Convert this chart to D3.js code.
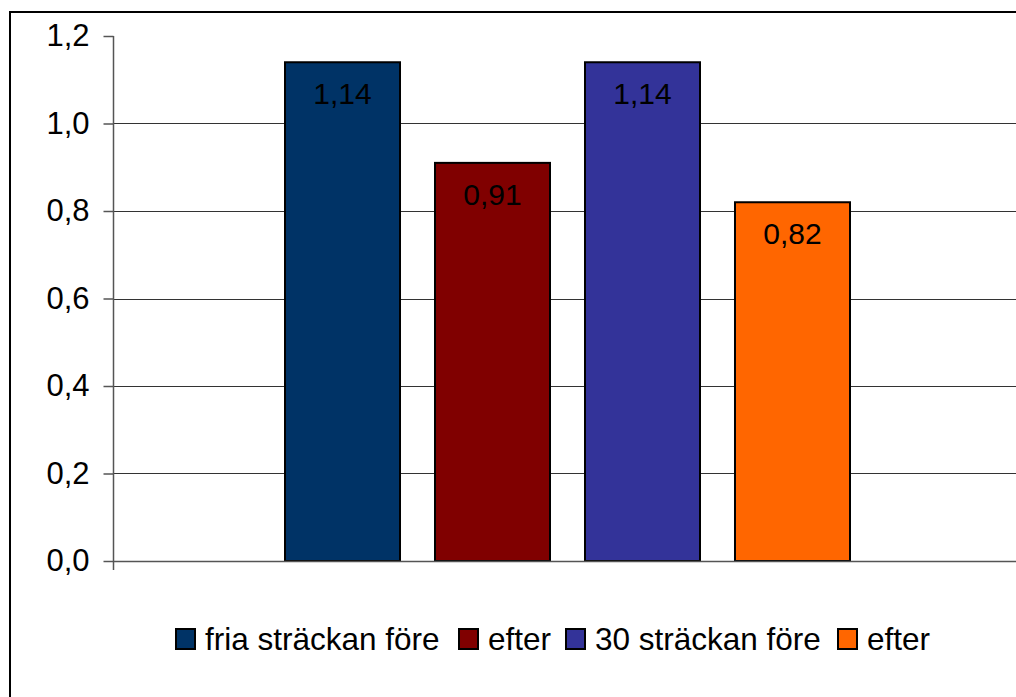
<!DOCTYPE html>
<html>
<head>
<meta charset="utf-8">
<script src="https://cdn.jsdelivr.net/npm/d3@7"></script>
<style>
  html, body { margin: 0; padding: 0; background: #fff; }
  svg { display: block; font-family: "Liberation Sans", Arial, sans-serif; }
</style>
</head>
<body>
<svg id="chart" width="1016" height="697"></svg>
<script>
// Series (one category, four bars)
const seriesNames = ["fria sträckan före", "efter", "30 sträckan före", "efter"];
const seriesValues = [1.14, 0.91, 1.14, 0.82];
const seriesLabels = ["1,14", "0,91", "1,14", "0,82"];
const seriesColors = ["#003366", "#800000", "#333399", "#FF6600"];
const yTicks = [0, 0.2, 0.4, 0.6, 0.8, 1.0, 1.2];

const svg = d3.select("#chart");

// Outer chart frame (right and bottom edges fall outside the view)
svg.append("rect")
  .attr("x", 10).attr("y", 12)
  .attr("width", 1040).attr("height", 720)
  .attr("fill", "#fff").attr("stroke", "#000").attr("stroke-width", 2);

const plot = { left: 113, right: 1022, top: 36, bottom: 561 };

const y = d3.scaleLinear().domain([0, 1.2]).range([plot.bottom, plot.top]);
const x = d3.scaleBand()
  .domain(d3.range(seriesValues.length))
  .range([plot.left, plot.right])
  .paddingInner(0.2333)
  .paddingOuter(1.1467);

// Gridlines (no line at the top value)
svg.append("g")
  .selectAll("line")
  .data(yTicks.filter(t => t > 0 && t < 1.2))
  .join("line")
  .attr("x1", plot.left).attr("x2", plot.right)
  .attr("y1", d => Math.round(y(d)) + 0.5).attr("y2", d => Math.round(y(d)) + 0.5)
  .attr("stroke", "#333").attr("stroke-width", 1.2);

// Bars
svg.append("g")
  .selectAll("rect")
  .data(seriesValues)
  .join("rect")
  .attr("x", (d, i) => x(i))
  .attr("y", d => y(d))
  .attr("width", x.bandwidth())
  .attr("height", d => plot.bottom - y(d))
  .attr("fill", (d, i) => seriesColors[i])
  .attr("stroke", "#000").attr("stroke-width", 2);

// Value labels inside the top of each bar
svg.append("g")
  .selectAll("text")
  .data(seriesValues)
  .join("text")
  .attr("x", (d, i) => x(i) + x.bandwidth() / 2)
  .attr("y", d => y(d) + 42)
  .attr("text-anchor", "middle")
  .attr("font-size", 30)
  .attr("fill", "#000")
  .text((d, i) => seriesLabels[i]);

// Y axis
const yAxis = d3.axisLeft(y)
  .tickValues(yTicks)
  .tickSize(10)
  .tickPadding(14)
  .tickFormat(d => d3.format(".1f")(d).replace(".", ","));
const ga = svg.append("g")
  .attr("transform", `translate(${plot.left + 0.5},0)`)
  .call(yAxis);
ga.select(".domain").remove();
ga.selectAll(".tick line").attr("stroke", "#555").attr("stroke-width", 1.5);
ga.selectAll(".tick text").attr("font-size", 31).attr("fill", "#000")
  .attr("font-family", "Liberation Sans, Arial, sans-serif");
svg.append("line")
  .attr("x1", plot.left + 0.5).attr("x2", plot.left + 0.5)
  .attr("y1", plot.top).attr("y2", plot.bottom + 9)
  .attr("stroke", "#555").attr("stroke-width", 1.5);

// X axis baseline
svg.append("line")
  .attr("x1", plot.left).attr("x2", plot.right)
  .attr("y1", plot.bottom + 0.5).attr("y2", plot.bottom + 0.5)
  .attr("stroke", "#555").attr("stroke-width", 1.5);

// Legend
const legend = svg.append("g").attr("font-size", 31.5);
const legendX = [175, 458, 565, 837];
seriesNames.forEach((name, i) => {
  const g = legend.append("g").attr("transform", `translate(${legendX[i]},628)`);
  g.append("rect").attr("x", 1).attr("y", 1).attr("width", 19).attr("height", 20)
    .attr("fill", seriesColors[i]).attr("stroke", "#000").attr("stroke-width", 2);
  g.append("text").attr("x", 30).attr("y", 22).attr("fill", "#000").text(name);
});
</script>
</body>
</html>
